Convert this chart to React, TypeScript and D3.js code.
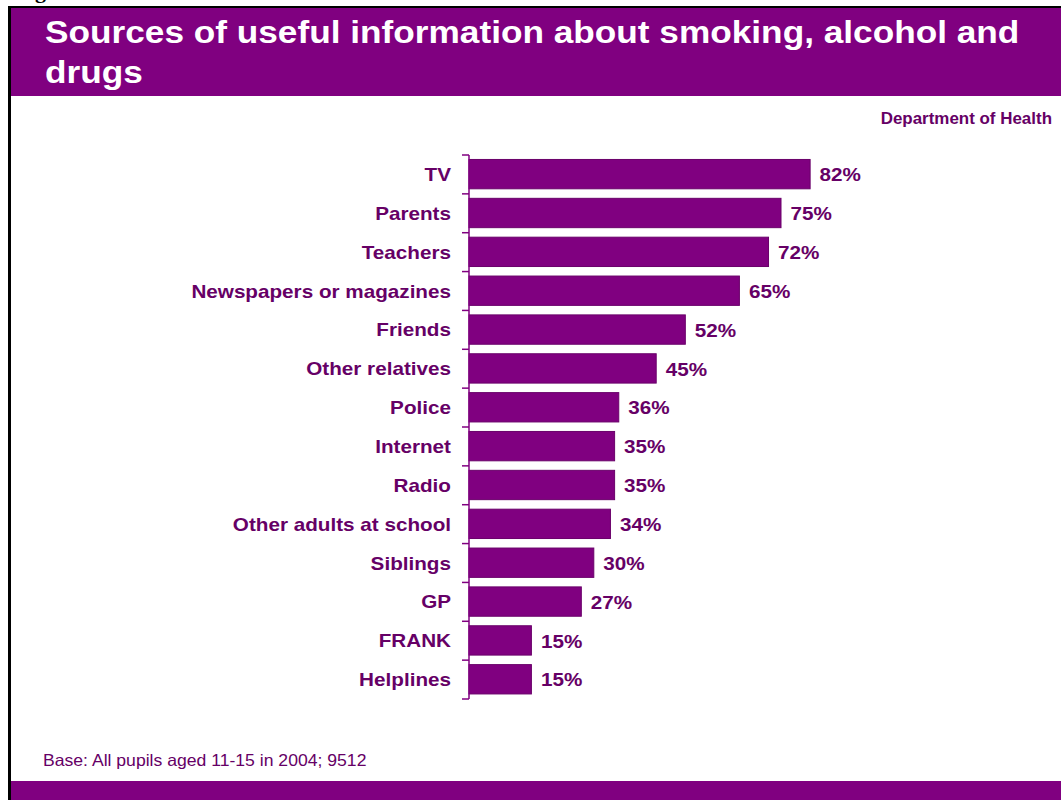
import React from "react";
import * as d3 from "d3";

const categories = [
  "TV",
  "Parents",
  "Teachers",
  "Newspapers or magazines",
  "Friends",
  "Other relatives",
  "Police",
  "Internet",
  "Radio",
  "Other adults at school",
  "Siblings",
  "GP",
  "FRANK",
  "Helplines",
];
const values = [82, 75, 72, 65, 52, 45, 36, 35, 35, 34, 30, 27, 15, 15];

const titleLines = ["Sources of useful information about smoking, alcohol and", "drugs"];
const sourceText = "Department of Health";
const baseText = "Base: All pupils aged 11-15 in 2004; 9512";

const W = 1061;
const H = 800;
const PURPLE = "#800080";
const DARK = "#660066";
const FONT = "'Liberation Sans', Arial, Helvetica, sans-serif";

type TProps = {
  x: number;
  y: number;
  sx?: number;
  size: number;
  anchor?: "start" | "end" | "middle";
  weight?: string;
  fill?: string;
  children: React.ReactNode;
};
const T = ({ x, y, sx = 1.13, size, anchor = "start", weight = "bold", fill = DARK, children }: TProps) => (
  <text
    transform={`translate(${x},${y}) scale(${sx},1)`}
    textAnchor={anchor}
    fontFamily={FONT}
    fontSize={size}
    fontWeight={weight}
    fill={fill}
  >
    {children}
  </text>
);

export default function App() {
  const x = d3.scaleLinear().domain([0, 100]).range([469, 885]);
  const y = d3.scaleBand<string>().domain(categories).range([155, 699]).padding(0);
  const bw = y.bandwidth();
  const ticks = d3.range(categories.length + 1).map((i) => 155 + i * bw);

  return (
    <svg
      width={W}
      height={H}
      style={{ position: "absolute", left: 0, top: 0, display: "block", background: "#fff" }}
    >
      <rect x={0} y={0} width={W} height={H} fill="#fff" />
      <text x={35} y={-2} fontFamily="'Liberation Serif', serif" fontWeight="bold" fontSize={22} fill="#000">
        g
      </text>
      {/* frame */}
      <rect x={8} y={6} width={W - 8} height={2} fill="#000" />
      <rect x={8} y={6} width={3} height={H - 6} fill="#000" />
      {/* header */}
      <rect x={11} y={8} width={W - 11} height={88} fill={PURPLE} />
      <T x={45} y={43} size={30.5} sx={1.155} fill="#fff">
        {titleLines[0]}
      </T>
      <T x={45} y={83} size={30.5} sx={1.155} fill="#fff">
        {titleLines[1]}
      </T>
      {/* footer */}
      <rect x={11} y={781} width={W - 11} height={19} fill={PURPLE} />
      <T x={43} y={766} size={16.3} sx={1.08} weight="normal">
        {baseText}
      </T>
      <T x={1052} y={124} size={16} sx={1.06} anchor="end">
        {sourceText}
      </T>

      {/* bars */}
      {categories.map((c, i) => {
        const by = (y(c) as number) + bw * 0.115;
        const bh = bw * 0.755;
        return (
          <g key={c}>
            <rect
              x={x(0)}
              y={by}
              width={x(values[i]) - x(0)}
              height={bh}
              fill={PURPLE}
              stroke="#6a006a"
              strokeWidth={1}
            />
            <T x={x(values[i]) + 9.5} y={(y(c) as number) + bw / 2 + 6.8} size={18.3} sx={1.13}>
              {values[i] + "%"}
            </T>
            <T x={451} y={(y(c) as number) + bw / 2 + 6.6} size={18.3} sx={1.13} anchor="end">
              {c}
            </T>
          </g>
        );
      })}

      {/* axis */}
      <line x1={469} x2={469} y1={155} y2={699} stroke={PURPLE} strokeWidth={1.5} />
      {ticks.map((t, i) => (
        <line key={i} x1={462} x2={469} y1={t} y2={t} stroke={PURPLE} strokeWidth={1.5} />
      ))}
    </svg>
  );
}
